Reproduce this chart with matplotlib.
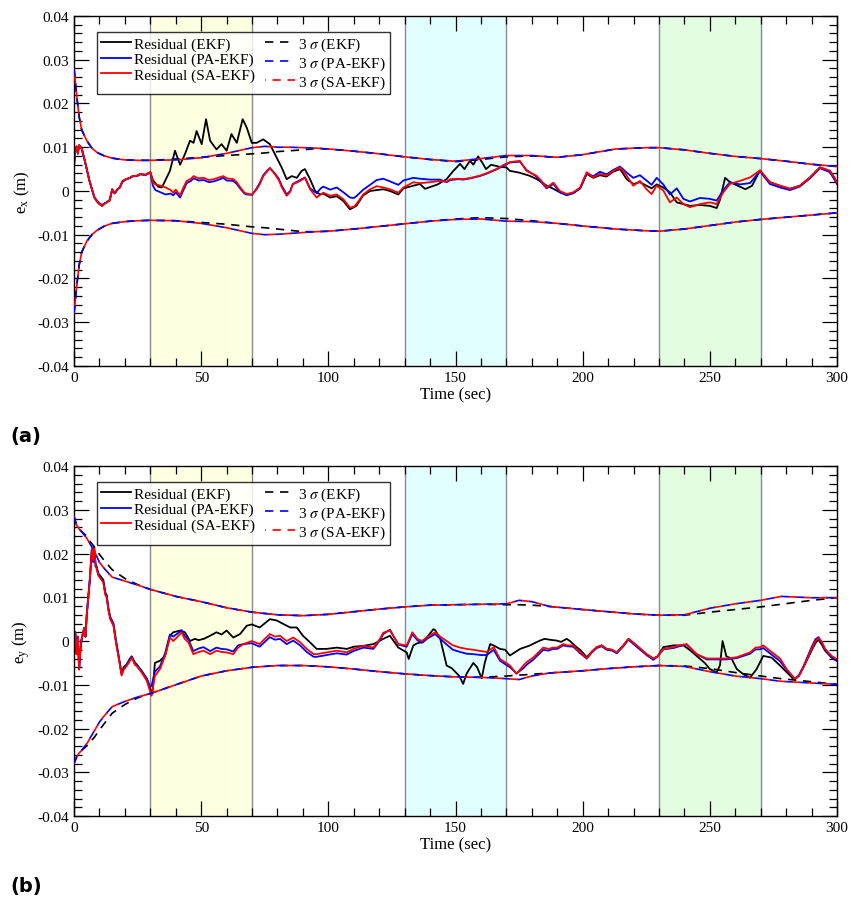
import numpy as np
import matplotlib
matplotlib.use("Agg")
import matplotlib.pyplot as plt
from matplotlib.ticker import MultipleLocator, FuncFormatter

plt.rcParams['font.family'] = ['Liberation Serif', 'DejaVu Serif']
plt.rcParams['mathtext.fontset'] = 'stix'
plt.rcParams['axes.unicode_minus'] = False

MM = 1e-3  # values below are read in units of 1e-3 m

# ---------------- panel (a): e_x ----------------
a_ekf = [(0, 5.8), (0.5, 9.5), (1, 10.2), (1.5, 8.5), (2, 10.5), (3, 9.8), (4, 7.5), (5, 5.0),
         (6, 2.5), (7, 0.5), (8, -1.5), (9, -2.4), (10, -3.0), (11, -3.4), (12, -2.9), (13, -2.5),
         (14, -2.2), (15, 0.4), (16, -0.5), (17, 0.3), (18, 0.8), (19, 2.2), (20, 2.6), (22, 3.0),
         (23, 3.4), (25, 3.5), (26, 3.9), (28, 3.7), (30, 4.3), (31, 2.5), (33, 1.0), (34.5, 0.8),
         (35.8, 2.3), (37.7, 4.6), (39.7, 9.2), (41.7, 6.0), (43.6, 8.4), (45.6, 11.5), (47, 11.0),
         (48.2, 13.7), (50.2, 10.7), (51.9, 16.4), (53.5, 11.5), (56, 9.5), (58, 10.7), (60, 9.2),
         (61.9, 13.0), (64, 11.0), (66.3, 16.4), (67.9, 14.5), (69.9, 11.0), (71.8, 11.0),
         (74.4, 11.8), (77, 10.7), (79.7, 7.6), (81.7, 5.3), (83.6, 2.7), (85.6, 3.4), (87.6, 3.0),
         (89.5, 4.6), (90.8, 5.0), (92.8, 2.7), (94.8, 0.0), (96.7, -0.8), (98, -0.6),
         (100.7, -1.5), (103.3, -1.2), (105.9, -2.3), (108.5, -4.2), (111, -3.4), (113.7, -1.0),
         (116.4, 0.0), (119, 0.2), (121.6, 0.4), (124.2, 0.0), (127.5, -0.8), (129.5, 0.6),
         (133.4, 1.2), (136, 1.6), (138, 0.5), (140, 0.9), (143, 1.5), (146.5, 2.7), (149, 4.5),
         (151.8, 6.2), (153.5, 5.0), (155.7, 6.9), (157, 6.0), (158.9, 7.9), (160.5, 6.5),
         (162, 5.0), (164, 6.0), (167.5, 5.5), (170, 5.4), (171.4, 4.6), (175, 4.2), (179, 3.5),
         (182, 2.7), (185.9, 1.2), (188.5, 0.5), (191, -0.3), (193.7, -0.8), (196.3, -0.5),
         (199, 0.6), (201.6, 3.9), (204.2, 3.0), (206.8, 3.6), (209.4, 3.3), (212, 4.4),
         (214.7, 5.0), (217.3, 2.7), (219.9, 1.6), (222.5, 2.0), (225.1, 1.2), (227.1, 0.6),
         (229.1, 1.5), (231.7, 0.8), (234.3, -0.3), (237, -2.6), (239.6, -3.0), (242.2, -3.4),
         (246.1, -3.2), (250, -3.4), (252.7, -3.9), (254, -2.0), (256, 3.0), (258, 2.0),
         (261.8, 1.0), (264, 0.4), (266.6, 1.2), (269.7, 4.7), (273.6, 2.0), (277.6, 1.2),
         (281.5, 0.5), (285.4, 1.2), (289.4, 3.1), (293.3, 5.4), (297.2, 4.6), (299, 3.0), (300, 1.9)]

a_pa = [(0, 5.8), (0.5, 9.0), (1, 10.0), (1.5, 8.8), (2, 10.3), (3, 9.6), (4, 7.4), (5, 5.0),
        (6, 2.4), (7, 0.4), (8, -1.4), (9, -2.2), (10, -2.8), (11, -3.2), (12, -2.8), (13, -2.6),
        (14, -2.0), (15, 0.2), (16, -0.6), (17, 0.4), (18, 0.8), (19, 2.0), (20, 2.5), (22, 3.0),
        (23, 3.3), (25, 3.5), (26, 3.8), (28, 3.6), (30, 4.2), (31, 1.2), (32, 0.2), (34, -0.3),
        (36, -0.8), (38, -0.6), (39, -1.0), (40, -0.3), (41.7, -1.5), (43, 0.2), (44.3, 1.8),
        (46, 2.3), (47, 2.9), (49, 2.4), (51, 2.5), (53, 2.0), (55, 2.2), (57, 2.6), (58.7, 3.0),
        (60, 2.4), (62.6, 2.3), (64, 1.6), (65, 0.8), (67, -0.6), (68, -0.8), (70, -0.9),
        (71.8, 0.6), (73, 1.8), (74.4, 3.6), (76, 4.7), (77, 5.2), (79, 4.0), (80.5, 2.8),
        (81.7, 1.2), (83.6, -0.8), (85, 0.0), (86, 1.6), (88.9, 2.5), (90.8, 3.1), (92.8, 0.6),
        (95.4, -0.5), (97, 0.6), (98, 1.0), (100.7, 0.3), (103.3, 0.8), (105.9, -0.3),
        (108.5, -1.5), (110, -1.6), (111, -1.2), (113.7, 0.3), (116.4, 1.4), (119, 2.5),
        (121.6, 2.8), (124.2, 2.2), (127.5, 1.4), (129.5, 2.4), (133.4, 3.0), (136, 2.8),
        (140, 2.6), (143.9, 2.6), (146.5, 2.0), (148, 2.5), (151, 2.7), (153, 2.6), (156, 2.9),
        (159.5, 3.4), (162, 3.9), (166, 4.9), (169, 5.8), (171.4, 6.5), (175.3, 6.7),
        (177.9, 4.8), (181.8, 3.3), (183.5, 2.2), (185.8, 0.6), (188.5, 1.6), (191, -0.3),
        (193.7, -1.0), (196.3, -0.5), (199, 0.6), (201.6, 4.0), (204.2, 3.4), (206.8, 4.4),
        (209.4, 3.8), (212, 4.8), (214.7, 5.6), (217.3, 4.2), (219.9, 3.0), (222.5, 3.6),
        (225.1, 2.4), (227.1, 1.4), (229.1, 3.0), (231.7, 1.5), (234.3, -0.8), (237, 0.6),
        (239.6, -1.8), (242.2, -2.4), (246.1, -1.6), (250, -1.8), (252.7, -2.2), (255.3, 0.2),
        (257.9, 2.0), (261.8, 1.5), (265.8, 1.8), (269.7, 4.5), (273.6, 1.6), (277.6, 0.8),
        (281.5, 0.2), (285.4, 1.0), (289.4, 2.9), (293.3, 5.2), (297.2, 4.3), (299, 2.6), (300, 1.6)]

a_sa = [(0, 5.8), (0.5, 9.5), (1, 10.2), (1.5, 8.5), (2, 10.5), (3, 9.8), (4, 7.5), (5, 5.0),
        (6, 2.5), (7, 0.5), (8, -1.5), (9, -2.4), (10, -3.0), (11, -3.4), (12, -2.9), (13, -2.5),
        (14, -2.2), (15, 0.4), (16, -0.5), (17, 0.3), (18, 0.8), (19, 2.2), (20, 2.6), (22, 3.0),
        (23, 3.4), (25, 3.5), (26, 3.9), (28, 3.7), (30, 4.3), (31, 2.0), (32, 1.5), (34, 1.2),
        (36, 0.8), (38, 0.2), (39, -0.4), (40, 0.3), (41.7, -1.0), (43, 0.8), (44.3, 2.3),
        (46, 2.8), (47, 3.4), (49, 2.9), (51, 3.0), (53, 2.5), (55, 2.7), (57, 3.1), (58.7, 3.4),
        (60, 2.9), (62.6, 2.7), (64, 2.0), (65, 1.1), (67, -0.4), (68, -0.6), (70, -0.8),
        (71.8, 0.4), (73, 1.5), (74.4, 3.4), (76, 4.5), (77, 5.3), (79, 3.8), (80.5, 2.5),
        (81.7, 0.8), (83.6, -1.1), (85, -0.2), (86, 1.5), (88.9, 2.3), (90.8, 3.0), (92.8, 0.4),
        (95.4, -1.5), (97, -0.8), (98, -0.4), (100.7, -1.1), (103.3, -0.8), (105.9, -1.9),
        (108.5, -3.8), (110, -3.6), (111, -3.0), (113.7, -0.8), (116.4, 0.4), (119, 1.1),
        (121.6, 0.8), (124.2, 0.4), (127.5, -0.4), (129.5, 0.8), (133.4, 2.0), (136, 1.8),
        (140, 2.0), (143.9, 2.3), (146.5, 2.1), (148, 2.7), (151, 2.8), (153, 2.7), (156, 3.0),
        (159.5, 3.5), (162, 4.0), (166, 5.0), (169, 6.0), (171.4, 6.6), (175.3, 6.9),
        (177.9, 4.6), (181.8, 3.5), (183.5, 2.5), (185.8, 0.8), (188.5, 1.9), (191, 0.0),
        (193.7, -0.7), (196.3, -0.3), (199, 0.8), (201.6, 4.3), (204.2, 3.1), (206.8, 3.9),
        (209.4, 3.5), (212, 4.6), (214.7, 5.4), (217.3, 3.5), (219.9, 1.2), (222.5, 2.3),
        (225.1, 0.4), (227.1, -0.7), (229.1, 1.2), (231.7, 0.1), (234.3, -2.6), (237, -1.5),
        (239.6, -3.0), (242.2, -3.7), (246.1, -3.0), (250, -2.6), (252.7, -3.0), (255.3, -0.3),
        (257.9, 1.6), (261.8, 2.3), (265.8, 3.1), (269.7, 4.7), (273.6, 2.0), (277.6, 1.2),
        (281.5, 0.5), (285.4, 1.2), (289.4, 3.1), (293.3, 5.4), (297.2, 4.6), (299, 3.0), (300, 1.9)]

a_sig_t = [0, 1, 2, 3, 5, 7, 9, 12, 15, 20, 25, 30, 40, 50, 60, 70, 75, 80, 85, 90, 95, 100,
           110, 120, 130, 140, 150, 160, 170, 180, 190, 200, 213, 225, 230, 240, 250, 260, 270,
           280, 290, 300]
a_sig_up_ekf = [28, 22, 17, 14, 11.5, 9.8, 8.8, 8.0, 7.5, 7.1, 7.0, 7.0, 7.3, 7.7, 8.1, 8.5, 8.7,
                9.0, 9.2, 9.4, 9.7, 9.6, 9.1, 8.5, 7.8, 7.2, 6.7, 7.2, 7.8, 8.0, 7.7, 8.3, 9.6,
                9.9, 9.9, 9.4, 8.6, 7.9, 7.4, 6.8, 6.1, 5.6]
a_sig_up_sa = [28, 22, 17, 14, 11.5, 9.8, 8.8, 8.0, 7.5, 7.1, 7.0, 7.0, 7.1, 7.6, 8.6, 9.9, 10.2,
               10.0, 10.0, 9.9, 9.8, 9.6, 9.1, 8.5, 7.8, 7.2, 6.8, 7.4, 8.1, 8.1, 7.7, 8.3, 9.6,
               9.9, 9.9, 9.4, 8.6, 7.9, 7.4, 6.8, 6.1, 5.6]
a_sig_lo_ekf = [-28, -22, -17, -14, -11.5, -10, -9, -8, -7.4, -7.0, -6.8, -6.7, -6.8, -7.2, -7.6,
                -8.2, -8.4, -8.7, -9.0, -9.3, -9.3, -9.2, -8.7, -8.1, -7.5, -6.9, -6.4, -6.1,
                -6.3, -6.8, -7.4, -8.0, -8.7, -9.1, -9.2, -8.7, -7.9, -7.1, -6.5, -6.0, -5.5, -5.0]
a_sig_lo_sa = [-28, -22, -17, -14, -11.5, -10, -9, -8, -7.4, -7.0, -6.8, -6.7, -6.8, -7.4, -8.4,
               -9.7, -10.0, -9.9, -9.7, -9.5, -9.3, -9.2, -8.7, -8.1, -7.5, -6.9, -6.5, -6.4,
               -6.9, -7.0, -7.4, -8.0, -8.7, -9.1, -9.2, -8.7, -7.9, -7.1, -6.5, -6.0, -5.5, -5.0]

# ---------------- panel (b): e_y ----------------
b_ekf = [(0, -1.0), (0.5, 2.0), (1, -3.0), (1.5, 1.0), (2, -6.5), (2.5, -2.0), (3, 0.5), (4, 3.0),
         (4.5, 1.0), (5, 6.0), (5.6, 10.0), (6.2, 14.0), (7, 21.0), (7.5, 18.5), (7.9, 21.5),
         (8.5, 17.5), (8.9, 17.0), (9.5, 15.5), (10.2, 15.0), (11.5, 14.0), (12.3, 11.0),
         (12.8, 10.5), (13.5, 7.5), (14.2, 5.5), (15.5, 3.8), (16.5, 0.0), (17.4, -3.0),
         (18.7, -7.5), (19.5, -6.0), (20.7, -5.3), (22, -4.0), (22.7, -3.5), (24, -5.0),
         (24.6, -5.3), (26.6, -6.8), (28.6, -8.6), (30, -11.0), (30.8, -12.0), (31.8, -5.0),
         (33.8, -4.5), (35.8, -3.4), (37.7, 1.2), (39, 2.0), (41.7, 2.4), (43.6, 2.0),
         (45.6, 0.0), (47.5, 0.5), (49, 0.2), (51, 0.5), (53.5, 1.2), (56, 2.0), (58, 1.5),
         (60, 2.4), (62.6, 0.8), (65.3, 1.6), (67.9, 3.5), (69.9, 3.8), (73, 3.1), (77, 5.0),
         (79.7, 4.7), (82.3, 3.9), (85, 3.1), (87.6, 3.1), (90, 1.2), (92.8, -0.3),
         (95.4, -1.8), (99.3, -1.8), (103.3, -1.5), (107.2, -1.8), (110, -1.3), (113.8, -1.1),
         (117.7, -0.7), (121.6, 0.5), (124.2, 1.2), (127.5, -1.5), (130.8, -2.6),
         (131.6, -4.1), (133.4, -1.0), (135, -0.5), (137.3, -0.2), (141.3, 2.7), (142, 2.5),
         (144, 0.5), (146.5, -5.6), (148.5, -6.2), (150, -7.1), (151.5, -8.0), (153, -9.8),
         (154.4, -7.4), (157, -5.0), (158.5, -6.0), (160.3, -8.5), (161.5, -5.0), (163.6, -0.7),
         (165, -1.0), (167.5, -1.8), (169.5, -2.0), (171.4, -3.3), (175.4, -1.8), (179.3, -1.0),
         (181, -0.5), (183.2, 0.1), (185, 0.5), (187, 0.3), (189.8, 0.1), (191.5, -0.2),
         (193.7, 0.5), (195, 0.0), (197.6, -1.4), (199, -2.0), (201.6, -3.7), (203.5, -2.5),
         (205.5, -1.4), (207.5, -1.0), (209.4, -1.8), (211.5, -2.0), (213.4, -2.6), (216, -1.0),
         (218, 0.5), (221.2, -1.0), (225.1, -3.0), (227.8, -4.0), (229.5, -3.5), (231.7, -1.4),
         (235.7, -1.0), (239.6, -1.0), (242, -2.0), (244.8, -3.4), (248, -5.0), (250, -6.4),
         (252.7, -7.2), (254, -5.5), (255, 0.0), (256.5, -3.5), (258.5, -4.0), (260.6, -6.4),
         (263.2, -7.6), (265.8, -8.4), (268.4, -6.4), (271, -3.4), (274.3, -3.8), (277.6, -5.6),
         (280, -7.0), (282.9, -8.7), (285, -8.0), (286.8, -6.0), (290, -2.2), (291.5, -0.5),
         (292.7, 0.3), (294, -0.8), (295.3, -2.2), (297.9, -3.8), (299.8, -4.5)]

b_pa = [(0, -1.0), (0.5, 2.0), (1, -3.0), (1.5, 1.0), (2, -6.3), (2.5, -2.0), (3, 0.5), (4, 3.0),
        (4.5, 1.0), (5, 6.0), (5.6, 10.0), (6.2, 14.0), (7, 20.5), (7.5, 18.0), (7.9, 21.0),
        (8.5, 17.0), (8.9, 16.8), (9.5, 15.3), (10.2, 14.5), (11.5, 13.6), (12.3, 11.0),
        (12.8, 10.5), (13.5, 7.5), (14.2, 5.5), (15.5, 4.0), (16.5, 0.0), (17.4, -3.0),
        (18.7, -7.5), (19.5, -6.5), (20.7, -5.5), (22, -4.2), (22.7, -3.6), (24, -5.3),
        (24.6, -5.5), (26.6, -7.0), (28.6, -8.6), (30, -10.5), (30.5, -10.2), (31.8, -7.0),
        (33.8, -5.8), (35.8, -2.8), (37.7, 1.5), (39, 1.0), (40.4, 1.6), (42.3, 2.5),
        (43.5, 1.2), (45, 0.3), (46.9, -2.3), (49, -1.7), (50.9, -1.4), (53.5, -2.3),
        (56, -1.5), (58, -1.8), (60, -1.9), (62.6, -2.4), (64.5, -1.0), (66.6, -0.7),
        (69.9, -0.5), (73, -1.3), (75, -0.2), (77, 0.9), (79, 0.3), (81, 0.5), (83.6, -0.7),
        (86.2, 0.1), (88.9, -1.0), (91.5, -2.5), (94.2, -3.6), (95.4, -3.6), (99.3, -3.2),
        (103.3, -2.8), (107.2, -3.1), (109.8, -2.3), (113.8, -1.5), (117.7, -1.8), (120.3, 0.2),
        (121.6, 1.6), (124.2, 2.6), (127.5, -0.8), (130.8, -1.3), (133, 1.6), (135, 0.2),
        (136.8, -0.4), (139, 0.6), (142, 1.6), (144, 0.5), (146.5, -0.8), (149, -2.0),
        (151.8, -2.5), (154.4, -2.9), (157, -3.0), (160, -3.2), (162.3, -3.2), (165, -2.0),
        (167.5, -4.5), (171.4, -6.0), (174, -7.4), (176.7, -6.2), (178, -5.4), (180.5, -4.3),
        (184.5, -2.0), (186.5, -2.2), (188.4, -1.8), (190, -1.8), (192.3, -1.0), (194, -1.2),
        (196.3, -1.3), (197.6, -2.0), (199, -2.8), (201.6, -4.0), (203.5, -2.7), (205.5, -1.6),
        (207.5, -1.2), (209.4, -2.0), (211.5, -2.2), (213.4, -2.8), (216, -1.2), (218, 0.3),
        (221.2, -1.3), (225.1, -3.2), (227.8, -4.3), (229.5, -3.5), (231.7, -1.9),
        (235.7, -1.6), (238, -1.2), (240.9, -0.8), (244.8, -3.0), (248.8, -4.2), (252.7, -4.2),
        (256.6, -4.2), (260.6, -3.9), (265.8, -2.9), (268, -1.9), (269.7, -1.9), (271, -1.6),
        (273.6, -2.8), (277.6, -4.6), (280.2, -6.6), (283.5, -8.7), (285, -7.8), (286.8, -5.8),
        (290, -1.4), (291.5, 0.4), (292.7, 0.9), (294, -0.2), (295.3, -1.9), (297.9, -3.7),
        (299.8, -4.4)]

b_sa = [(0, -1.0), (0.5, 2.0), (1, -3.0), (1.5, 1.0), (2, -6.5), (2.5, -2.0), (3, 0.5), (4, 3.0),
        (4.5, 1.0), (5, 6.0), (5.6, 10.0), (6.2, 14.0), (7, 21.0), (7.5, 18.5), (7.9, 21.5),
        (8.5, 17.0), (8.9, 16.5), (9.5, 15.0), (10.2, 14.5), (11.5, 13.4), (12.3, 10.5),
        (12.8, 10.0), (13.5, 7.0), (14.2, 5.0), (15.5, 3.5), (16.5, -0.5), (17.4, -3.4),
        (18.7, -7.9), (19.5, -6.5), (20.7, -5.7), (22, -4.5), (22.7, -3.8), (24, -5.5),
        (24.6, -5.7), (26.6, -7.2), (28.6, -9.1), (30, -11.7), (30.5, -12.5), (31.8, -8.0),
        (33.8, -6.4), (35.8, -3.4), (37.7, 0.8), (39, 0.0), (40.4, 0.8), (42.3, 2.0),
        (43.5, 0.5), (45, -0.3), (46.9, -3.0), (49, -2.5), (50.9, -2.2), (53.5, -3.0),
        (56, -2.2), (58, -2.5), (60, -2.6), (62.6, -3.0), (64.5, -1.5), (66.6, -0.7),
        (69.9, 0.0), (73, -0.7), (75, 0.5), (77, 1.6), (79, 1.0), (81, 1.2), (83.6, 0.0),
        (86.2, 0.8), (88.9, -0.3), (91.5, -1.8), (94.2, -3.0), (95.4, -3.0), (99.3, -2.6),
        (103.3, -2.2), (107.2, -2.6), (109.8, -1.8), (113.8, -1.1), (117.7, -1.5), (120.3, 0.5),
        (121.6, 1.9), (124.2, 2.4), (127.5, -0.7), (130.8, -1.0), (133, 2.0), (135, 0.5),
        (136.8, 0.0), (139, 1.0), (142, 2.0), (144, 1.0), (146.5, 0.0), (149, -1.0),
        (151.8, -1.5), (154.4, -1.8), (157, -2.0), (160, -2.3), (162.3, -2.5), (165, -1.4),
        (167.5, -4.1), (171.4, -5.6), (174, -7.5), (176.7, -5.6), (178, -4.8), (180.5, -3.8),
        (184.5, -1.5), (186.5, -1.8), (188.4, -1.5), (190, -1.5), (192.3, -0.7), (194, -1.0),
        (196.3, -1.0), (197.6, -1.8), (199, -2.5), (201.6, -4.0), (203.5, -2.5), (205.5, -1.4),
        (207.5, -1.0), (209.4, -1.8), (211.5, -2.0), (213.4, -2.6), (216, -1.0), (218, 0.5),
        (221.2, -1.0), (225.1, -3.0), (227.8, -4.0), (229.5, -3.5), (231.7, -1.8),
        (235.7, -1.4), (238, -1.0), (240.9, -0.7), (244.8, -3.0), (248.8, -4.0), (252.7, -4.0),
        (256.6, -4.0), (260.6, -3.7), (265.8, -2.6), (268, -1.5), (269.7, -1.4), (271, -1.0),
        (273.6, -2.2), (277.6, -4.0), (280.2, -6.4), (283.5, -8.7), (285, -8.0), (286.8, -6.0),
        (290, -1.8), (291.5, 0.0), (292.7, 0.7), (294, -0.3), (295.3, -1.8), (297.9, -3.4),
        (299.8, -4.1)]

b_sig_t = [0, 1, 2, 3, 4, 5, 6, 8, 10, 12, 15, 20, 25, 30, 40, 50, 60, 70, 80, 90, 100, 110, 120,
           130, 140, 150, 160, 170, 175, 180, 187, 200, 210, 220, 230, 240, 250, 260, 270, 278,
           290, 300]
b_sig_up_ekf = [28.5, 26.5, 25.6, 25.0, 24.5, 24.0, 23.0, 21.5, 19.8, 18.3, 16.3, 14.3, 12.9,
                11.8, 10.2, 9.0, 7.6, 6.6, 6.0, 5.8, 6.1, 6.7, 7.3, 7.8, 8.2, 8.3, 8.4, 8.3, 8.3,
                8.2, 7.9, 7.2, 6.7, 6.2, 5.9, 5.9, 6.6, 7.2, 7.8, 8.4, 9.3, 9.9]
b_sig_up_sa = [28.5, 26.5, 25.6, 25.0, 24.2, 23.5, 22.5, 20.5, 18.0, 16.5, 14.6, 13.7, 12.8,
               11.8, 10.2, 9.0, 7.6, 6.6, 6.0, 5.8, 6.1, 6.7, 7.3, 7.8, 8.2, 8.3, 8.4, 8.5, 9.3,
               9.0, 7.9, 7.2, 6.7, 6.2, 5.9, 6.0, 7.5, 8.5, 9.3, 10.2, 9.9, 9.9]
b_sig_lo_ekf = [-28.0, -26.5, -25.6, -25.0, -24.5, -24.0, -23.3, -22.0, -20.3, -18.8, -16.5,
                -14.5, -13.0, -12.0, -10.0, -8.0, -6.8, -6.0, -5.6, -5.6, -5.9, -6.4, -7.0,
                -7.5, -7.9, -8.2, -8.3, -8.0, -7.8, -7.6, -7.3, -6.8, -6.3, -5.9, -5.6, -5.7,
                -6.3, -7.2, -8.0, -8.6, -9.3, -9.9]
b_sig_lo_sa = [-28.0, -26.5, -25.6, -25.0, -24.2, -23.5, -22.5, -20.5, -18.5, -17.0, -15.0,
               -13.8, -12.8, -12.0, -10.0, -8.0, -6.8, -6.0, -5.6, -5.6, -5.9, -6.4, -7.0,
               -7.5, -7.9, -8.2, -8.3, -8.6, -8.8, -8.0, -7.3, -6.8, -6.3, -5.9, -5.6, -5.8,
               -7.0, -8.0, -8.6, -9.2, -9.6, -9.9]

# shaded test windows
windows = [(30, 70, '#ffffe2'), (130, 170, '#e2ffff'), (230, 270, '#e2fde0')]
panel_labels = ['(a)', '(b)']
ylabels = [r'e$_\mathregular{x}$ (m)', r'e$_\mathregular{y}$ (m)']


def draw_panel(ax, ekf, pa, sa, sig_t, up_ekf, up_sa, lo_ekf, lo_sa, ylab):
    for x0, x1, c in windows:
        ax.axvspan(x0, x1, facecolor=c, edgecolor='none', zorder=0)
        for xv in (x0, x1):
            ax.axvline(xv, color='#8a8a8a', lw=1.0, zorder=0.5)

    h = []
    for data, col in ((ekf, 'black'), (pa, '#0000ff'), (sa, '#ff0000')):
        t, v = zip(*data)
        ln, = ax.plot(t, np.array(v) * MM, color=col, lw=1.3, zorder=2)
        h.append(ln)

    st = np.array(sig_t)
    dash_specs = [(up_ekf, lo_ekf, 'black', 0), (up_sa, lo_sa, '#0000ff', 0), (up_sa, lo_sa, '#ff0000', 4.5)]
    for up, lo, col, off in dash_specs:
        ln, = ax.plot(st, np.array(up) * MM, color=col, lw=1.2, ls=(off, (5, 4)), zorder=3)
        ax.plot(st, np.array(lo) * MM, color=col, lw=1.2, ls=(off, (5, 4)), zorder=3)
        h.append(ln)

    ax.set_xlim(0, 300)
    ax.set_ylim(-0.04, 0.04)
    ax.xaxis.set_major_locator(MultipleLocator(50))
    ax.xaxis.set_minor_locator(MultipleLocator(10))
    ax.yaxis.set_major_locator(MultipleLocator(0.01))
    ax.yaxis.set_minor_locator(MultipleLocator(0.002))
    ax.yaxis.set_major_formatter(FuncFormatter(lambda v, p: f'{round(v, 3):g}'))
    ax.tick_params(which='both', direction='in', top=True, right=True, width=0.9, labelsize=11)
    ax.tick_params(which='major', length=10.5)
    ax.tick_params(which='minor', length=5.5)
    for s in ax.spines.values():
        s.set_linewidth(1.0)
    ax.set_xlabel('Time (sec)', fontsize=12, labelpad=2)
    ax.set_ylabel(ylab, fontsize=12, labelpad=4)

    labels = ['Residual (EKF)', 'Residual (PA-EKF)', 'Residual (SA-EKF)',
              r'3 $\sigma$ (EKF)', r'3 $\sigma$ (PA-EKF)', r'3 $\sigma$ (SA-EKF)']
    leg = ax.legend(h, labels, ncol=2, loc='upper left', bbox_to_anchor=(0.03, 0.955),
                    borderaxespad=0, fontsize=11, frameon=True, fancybox=False,
                    handlelength=2.0, handletextpad=0.2, columnspacing=0.6,
                    labelspacing=0.1, borderpad=0.25)
    leg.get_frame().set_edgecolor('black')
    leg.get_frame().set_linewidth(1.0)
    leg.set_zorder(5)


fig = plt.figure(figsize=(8.5, 9.03), dpi=100)
ax1 = fig.add_axes([0.0871, 0.5936, 0.8976, 0.3876])
ax2 = fig.add_axes([0.0871, 0.0952, 0.8976, 0.3876])

draw_panel(ax1, a_ekf, a_pa, a_sa, a_sig_t, a_sig_up_ekf, a_sig_up_sa, a_sig_lo_ekf, a_sig_lo_sa, ylabels[0])
draw_panel(ax2, b_ekf, b_pa, b_sa, b_sig_t, b_sig_up_ekf, b_sig_up_sa, b_sig_lo_ekf, b_sig_lo_sa, ylabels[1])

fig.text(10 / 850, 1 - 437 / 903, panel_labels[0], fontsize=14, fontweight='bold',
         family='DejaVu Sans', va='center', ha='left')
fig.text(10 / 850, 1 - 887 / 903, panel_labels[1], fontsize=14, fontweight='bold',
         family='DejaVu Sans', va='center', ha='left')

fig.savefig('out.png', dpi=100)
